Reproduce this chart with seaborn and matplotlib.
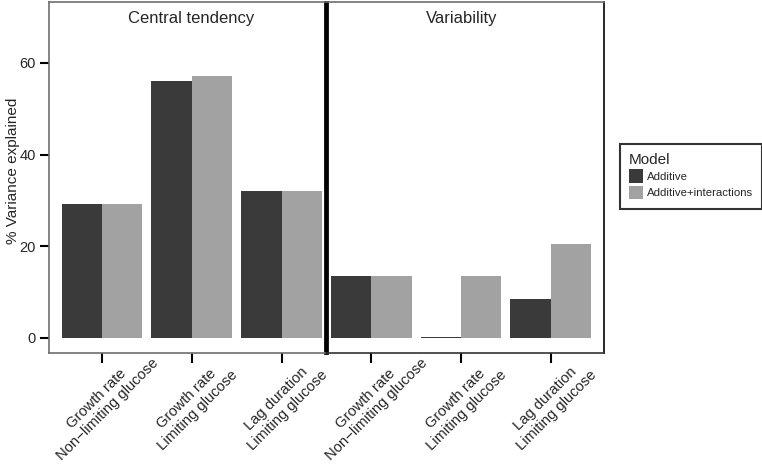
import matplotlib
matplotlib.use("Agg")
import matplotlib.pyplot as plt
import seaborn as sns
import pandas as pd

# Data
facets = ["Central tendency", "Variability"]
traits = ["Growth rate\nNon\u2212limiting glucose",
          "Growth rate\nLimiting glucose",
          "Lag duration\nLimiting glucose"]
models = ["Additive", "Additive+interactions"]
central_additive = [29.2, 56.0, 32.1]
central_interact = [29.2, 57.2, 32.1]
variab_additive = [13.5, 0.1, 8.4]
variab_interact = [13.5, 13.4, 20.4]

rows = []
for facet, add, inter in [(facets[0], central_additive, central_interact),
                          (facets[1], variab_additive, variab_interact)]:
    for t, a, b in zip(traits, add, inter):
        rows.append({"facet": facet, "trait": t, "model": models[0], "value": a})
        rows.append({"facet": facet, "trait": t, "model": models[1], "value": b})
df = pd.DataFrame(rows)

sns.set_style("white")
plt.rcParams["font.family"] = ["Liberation Sans", "DejaVu Sans"]

palette = {models[0]: "#3a3a3a", models[1]: "#a2a2a2"}

W, H = 762, 465
fig = plt.figure(figsize=(W / 100, H / 100), dpi=100)
ax1 = fig.add_axes([49 / W, 1 - 353 / H, (325 - 49) / W, (353 - 2) / H])
ax2 = fig.add_axes([327 / W, 1 - 353 / H, (604 - 327) / W, (353 - 2) / H], sharey=ax1)

xlims = [(-0.59, 2.48), (-0.49, 2.59)]
title_x = [0.514, 0.486]
for ax, facet, xl, tx in zip([ax1, ax2], facets, xlims, title_x):
    sub = df[df["facet"] == facet]
    sns.barplot(data=sub, x="trait", y="value", hue="model", order=traits,
                hue_order=models, palette=palette, width=0.9, gap=0,
                saturation=1, linewidth=0, ax=ax, legend=False)
    ax.set_xlim(*xl)
    ax.set_ylim(-3.3, 73.3)
    ax.set_xlabel("")
    ax.set_ylabel("")
    ax.text(tx, 0.975, facet, transform=ax.transAxes, ha="center", va="top",
            fontsize=12)
    ax.set_xticks(range(len(traits)))
    ax.set_xticklabels(traits, rotation=45, ha="center", va="center",
                       rotation_mode="anchor", multialignment="center",
                       fontsize=10.6, linespacing=1.15)
    ax.tick_params(axis="x", direction="out", length=7, width=1.5,
                   color="black", pad=30, bottom=True)
    for s in ax.spines.values():
        s.set_color("#6e6e6e")
        s.set_linewidth(1.2)

ax1.set_yticks([0, 20, 40, 60])
ax1.tick_params(axis="y", direction="out", length=6.5, width=1.5,
                color="black", labelsize=10.5, pad=3, left=True)
ax1.set_ylabel("% Variance explained", fontsize=11)
ax1.yaxis.set_label_coords(-0.105, 0.52)
ax2.tick_params(axis="y", left=False, labelleft=False)

ax1.spines["right"].set_color("black")
ax1.spines["right"].set_linewidth(2)
ax2.spines["left"].set_color("black")
ax2.spines["left"].set_linewidth(2)
ax2.spines["right"].set_color("black")
ax2.spines["bottom"].set_color("#333333")

handles = [plt.Rectangle((0, 0), 1, 1, facecolor=palette[m], edgecolor="none")
           for m in models]
leg = fig.legend(handles, models, title="Model", loc="upper left",
                 bbox_to_anchor=(620 / W, 1 - 144 / H), fontsize=8.2,
                 title_fontsize=11, frameon=True, fancybox=False,
                 handlelength=1.23, handleheight=1.5, handletextpad=0.35,
                 labelspacing=0.2, borderpad=0.8, borderaxespad=0,
                 alignment="left")
leg.get_frame().set_edgecolor("black")
leg.get_frame().set_linewidth(1.5)

fig.savefig("out.png", dpi=100)
